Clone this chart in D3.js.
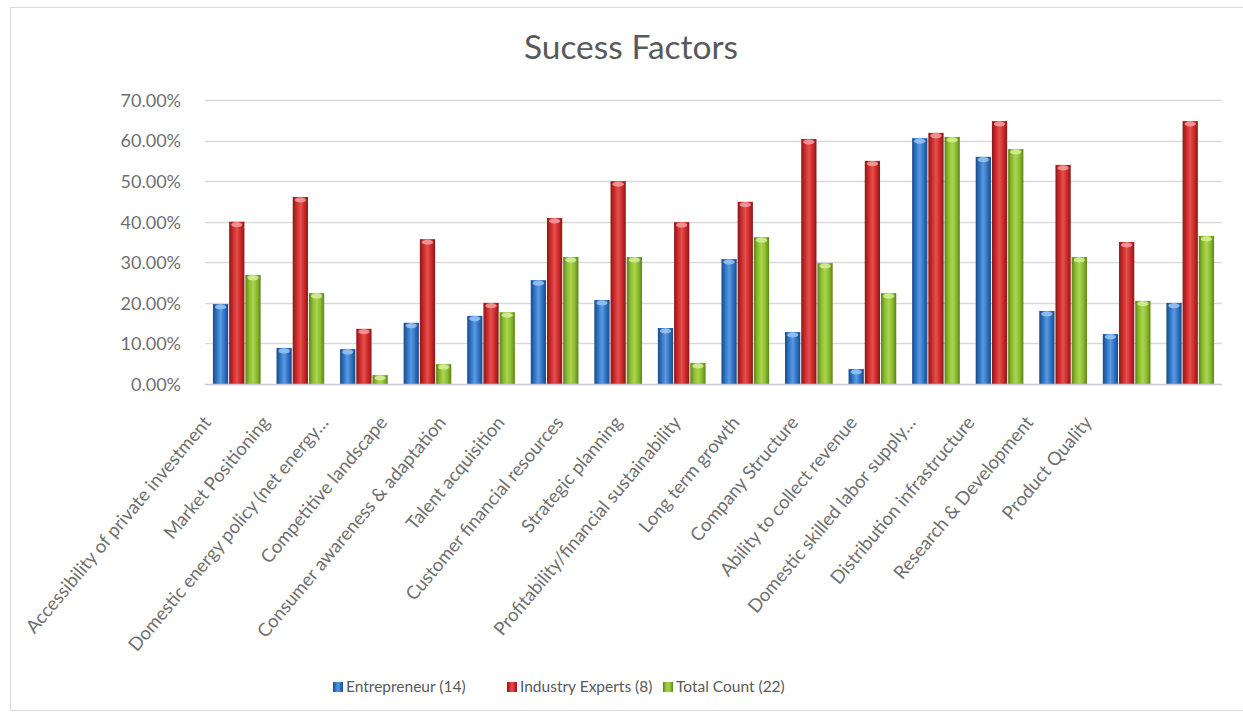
<!DOCTYPE html>
<html>
<head>
<meta charset="utf-8">
<script src="https://cdn.jsdelivr.net/npm/d3@7"></script>
<style>
  body { margin: 0; background: #fff; }
  svg { display: block; font-family: Lato, "Open Sans", sans-serif; }
</style>
</head>
<body>
<svg id="chart" width="1243" height="717"></svg>
<script>
const categories = [
  'Accessibility of private investment',
  'Market Positioning',
  'Domestic energy policy (net energy…',
  'Competitive landscape',
  'Consumer awareness & adaptation',
  'Talent acquisition',
  'Customer financial resources',
  'Strategic planning',
  'Profitability/financial sustainability',
  'Long term growth',
  'Company Structure',
  'Ability to collect revenue',
  'Domestic skilled labor supply…',
  'Distribution infrastructure',
  'Research & Development',
  'Product Quality'
];

const seriesNames = ['Entrepreneur (14)', 'Industry Experts (8)', 'Total Count (22)'];

const entrepreneur = [0.197, 0.089, 0.086, 0.151, 0.168, 0.256, 0.207, 0.138, 0.308, 0.128, 0.037, 0.606, 0.560, 0.180, 0.123, 0.200];
const industryExperts = [0.400, 0.461, 0.136, 0.357, 0.200, 0.409, 0.500, 0.399, 0.449, 0.604, 0.550, 0.619, 0.648, 0.540, 0.350, 0.648];
const totalCount = [0.269, 0.224, 0.022, 0.049, 0.177, 0.313, 0.313, 0.052, 0.362, 0.298, 0.224, 0.609, 0.579, 0.313, 0.205, 0.365];

const yTicks = [0, 0.1, 0.2, 0.3, 0.4, 0.5, 0.6, 0.7];

const seriesValues = [entrepreneur, industryExperts, totalCount];

// bar shading: dark edge, bright, light centre
const palette = [
  {edge: '#1b4a87', mid: '#2f74c4', light: '#5a9ae0', cap: '#9cc6f2'},
  {edge: '#8a1818', mid: '#cc2a2a', light: '#e5504e', cap: '#f4a0a0'},
  {edge: '#5a8419', mid: '#8cbd2e', light: '#abd452', cap: '#d6f09a'}
];

const svg = d3.select('#chart');
const width = 1243;
const height = 717;

const margin = {left: 205, right: 21, top: 100, bottom: 333};

// chart frame
svg.append('rect')
  .attr('x', 10.5)
  .attr('y', 7.5)
  .attr('width', width)
  .attr('height', 703)
  .attr('fill', 'none')
  .attr('stroke', '#d9d9d9');

const defs = svg.append('defs');
palette.forEach((p, i) => {
  const g = defs.append('linearGradient')
    .attr('id', 'grad' + i)
    .attr('x1', '0%').attr('x2', '100%')
    .attr('y1', '0%').attr('y2', '0%');
  [[0, p.edge], [0.25, p.mid], [0.5, p.light], [0.75, p.mid], [1, p.edge]].forEach(([o, c]) => {
    g.append('stop').attr('offset', o).attr('stop-color', c);
  });
});

const x0 = d3.scaleBand()
  .domain(categories)
  .range([margin.left, width - margin.right])
  .paddingInner(0.25)
  .paddingOuter(0.125);

const x1 = d3.scaleBand()
  .domain(d3.range(seriesNames.length))
  .range([0, x0.bandwidth()])
  .paddingInner(0.06);

const y = d3.scaleLinear()
  .domain([0, 0.7])
  .range([height - margin.bottom, margin.top]);

// title
svg.append('text')
  .attr('x', 631)
  .attr('y', 59)
  .attr('text-anchor', 'middle')
  .attr('fill', '#595959')
  .style('font-size', '33.5px')
  .text('Sucess Factors');

// gridlines
svg.append('g')
  .selectAll('line')
  .data(yTicks.slice(1))
  .join('line')
  .attr('x1', margin.left)
  .attr('x2', width - margin.right)
  .attr('y1', d => Math.round(y(d)) + 0.5)
  .attr('y2', d => Math.round(y(d)) + 0.5)
  .attr('stroke', '#d9d9d9')
  .attr('stroke-width', 1.5);

// y axis labels
const yAxis = svg.append('g')
  .attr('transform', `translate(${margin.left - 21},0)`)
  .call(d3.axisLeft(y).tickValues(yTicks).tickFormat(d3.format('.2%')).tickSize(0));
yAxis.select('.domain').remove();
yAxis.selectAll('text')
  .attr('fill', '#6f6f6f')
  .attr('dy', '0.35em')
  .style('font-family', 'Lato, sans-serif')
  .style('font-size', '18px');

// bars
const groups = svg.append('g')
  .selectAll('g.group')
  .data(categories)
  .join('g')
  .attr('class', 'group')
  .attr('transform', d => `translate(${x0(d)},0)`);

const bars = groups.selectAll('g.bar')
  .data((d, ci) => seriesValues.map((vals, si) => ({si, v: vals[ci]})))
  .join('g')
  .attr('class', 'bar');

bars.append('rect')
  .attr('x', d => x1(d.si))
  .attr('y', d => y(d.v))
  .attr('width', x1.bandwidth())
  .attr('height', d => y(0) - y(d.v))
  .attr('fill', d => `url(#grad${d.si})`);

// cylinder cap highlight
bars.append('ellipse')
  .attr('cx', d => x1(d.si) + x1.bandwidth() / 2)
  .attr('cy', d => y(d.v) + 3)
  .attr('rx', x1.bandwidth() / 2 - 2)
  .attr('ry', 2.5)
  .attr('fill', d => palette[d.si].cap)
  .attr('opacity', 0.85);

// baseline
svg.append('line')
  .attr('x1', margin.left)
  .attr('x2', width - margin.right)
  .attr('y1', y(0) + 0.5)
  .attr('y2', y(0) + 0.5)
  .attr('stroke', '#c8c8d8')
  .attr('stroke-width', 1.5);

// rotated category labels
const xLabel = d3.scalePoint()
  .domain(categories)
  .range([212, 1093]);

svg.append('g')
  .selectAll('text')
  .data(categories)
  .join('text')
  .attr('transform', d => `translate(${xLabel(d)},423) rotate(-50)`)
  .attr('text-anchor', 'end')
  .attr('fill', '#6f6f6f')
  .style('font-size', '18.5px')
  .text(d => d);

// legend
const legendX = [333, 507, 663];
const legend = svg.append('g')
  .selectAll('g')
  .data(seriesNames)
  .join('g')
  .attr('transform', (d, i) => `translate(${legendX[i]},687)`);

legend.append('rect')
  .attr('x', 0)
  .attr('y', -5)
  .attr('width', 10)
  .attr('height', 10)
  .attr('fill', (d, i) => `url(#grad${i})`);

legend.append('text')
  .attr('x', 13)
  .attr('dy', '0.35em')
  .attr('fill', '#595959')
  .style('font-size', '15.5px')
  .text(d => d);
</script>
</body>
</html>
